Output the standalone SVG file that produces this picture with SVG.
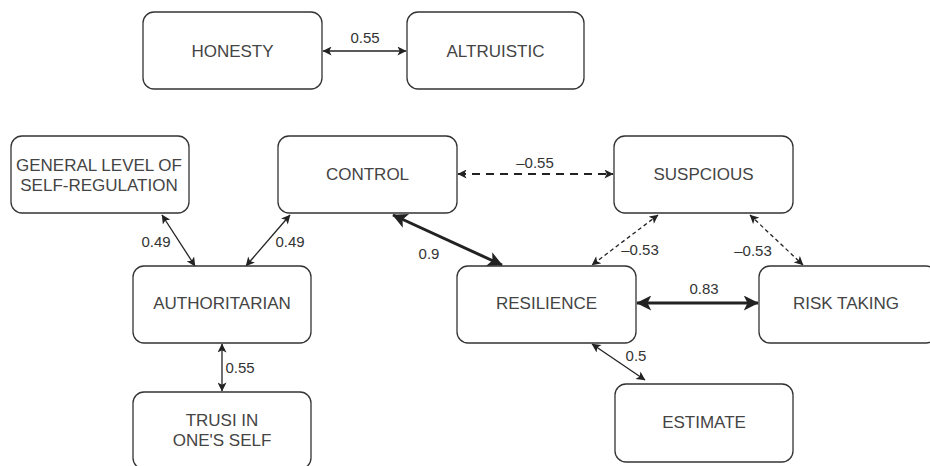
<svg xmlns="http://www.w3.org/2000/svg" width="930" height="466" viewBox="0 0 930 466">
<style>
.box{fill:#fff;stroke:#333;stroke-width:1.3}
.t{font-family:"Liberation Sans",Arial,sans-serif;font-size:17px;fill:#444;text-anchor:middle;dominant-baseline:central}
.l{font-family:"Liberation Sans",Arial,sans-serif;font-size:15px;fill:#333;text-anchor:middle;dominant-baseline:central}
.c{fill:none;stroke:#222;stroke-width:1.3}
.thick{stroke-width:3}
.dash{stroke-width:2;stroke-dasharray:8 6}
.dot{stroke-dasharray:4 3}
</style>
<defs>
<marker id="a" viewBox="0 0 10 10" markerWidth="10" markerHeight="9" refX="9.5" refY="5" orient="auto-start-reverse" markerUnits="userSpaceOnUse">
<path d="M0,0 L10,5 L0,10 L2.5,5 z" fill="#222"/>
</marker>
<marker id="b" viewBox="0 0 10 10" markerWidth="18" markerHeight="15" refX="9.5" refY="5" orient="auto-start-reverse" markerUnits="userSpaceOnUse">
<path d="M0,0 L10,5 L0,10 L2.5,5 z" fill="#222"/>
</marker>
</defs>
<g id="connectors">
<line class="c" x1="323" y1="51" x2="406" y2="51" marker-start="url(#a)" marker-end="url(#a)"/>
<line class="c dash" x1="458" y1="174" x2="613" y2="174" marker-start="url(#a)" marker-end="url(#a)"/>
<line class="c" x1="162" y1="215" x2="195" y2="266" marker-start="url(#a)" marker-end="url(#a)"/>
<line class="c" x1="290" y1="215" x2="246" y2="266" marker-start="url(#a)" marker-end="url(#a)"/>
<line class="c" x1="222" y1="344" x2="222" y2="391" marker-start="url(#a)" marker-end="url(#a)"/>
<line class="c thick" x1="393" y1="215" x2="502" y2="265" marker-start="url(#b)" marker-end="url(#b)"/>
<line class="c dot" x1="658" y1="215" x2="592" y2="265" marker-start="url(#a)" marker-end="url(#a)"/>
<line class="c dot" x1="750" y1="215" x2="803" y2="265" marker-start="url(#a)" marker-end="url(#a)"/>
<line class="c thick" x1="637" y1="303" x2="758" y2="303" marker-start="url(#b)" marker-end="url(#b)"/>
<line class="c" x1="592" y1="344" x2="645" y2="380" marker-start="url(#a)" marker-end="url(#a)"/>
<text class="l" x="365" y="37">0.55</text>
<text class="l" x="535" y="162">–0.55</text>
<text class="l" x="156" y="241">0.49</text>
<text class="l" x="290" y="241">0.49</text>
<text class="l" x="240" y="367">0.55</text>
<text class="l" x="429" y="253">0.9</text>
<text class="l" x="640" y="249">–0.53</text>
<text class="l" x="753" y="250">–0.53</text>
<text class="l" x="704" y="288">0.83</text>
<text class="l" x="636" y="355">0.5</text>
</g>
<g id="honesty"><rect class="box" x="143" y="12" width="179" height="77" rx="11"/><text class="t" x="232.5" y="51">HONESTY</text></g>
<g id="altruistic"><rect class="box" x="407" y="12" width="177" height="77" rx="11"/><text class="t" x="495.5" y="51">ALTRUISTIC</text></g>
<g id="general"><rect class="box" x="11" y="136" width="178" height="77" rx="11"/><text class="t" x="99" y="165">GENERAL LEVEL OF</text><text class="t" x="99" y="185">SELF-REGULATION</text></g>
<g id="control"><rect class="box" x="278" y="136" width="179" height="77" rx="11"/><text class="t" x="367.5" y="174">CONTROL</text></g>
<g id="suspcious"><rect class="box" x="614" y="136" width="179" height="77" rx="11"/><text class="t" x="703.5" y="174">SUSPCIOUS</text></g>
<g id="authoritarian"><rect class="box" x="133" y="266" width="178" height="77" rx="11"/><text class="t" x="222" y="303">AUTHORITARIAN</text></g>
<g id="resilience"><rect class="box" x="457" y="266" width="179" height="77" rx="11"/><text class="t" x="546.5" y="303">RESILIENCE</text></g>
<g id="risktaking"><rect class="box" x="759" y="266" width="178" height="77" rx="11"/><text class="t" x="846" y="303">RISK TAKING</text></g>
<g id="trust"><rect class="box" x="133" y="392" width="178" height="77" rx="11"/><text class="t" x="222" y="420">TRUSI IN</text><text class="t" x="222" y="440">ONE'S SELF</text></g>
<g id="estimate"><rect class="box" x="615" y="384" width="178" height="78" rx="11"/><text class="t" x="704" y="422">ESTIMATE</text></g>
</svg>
